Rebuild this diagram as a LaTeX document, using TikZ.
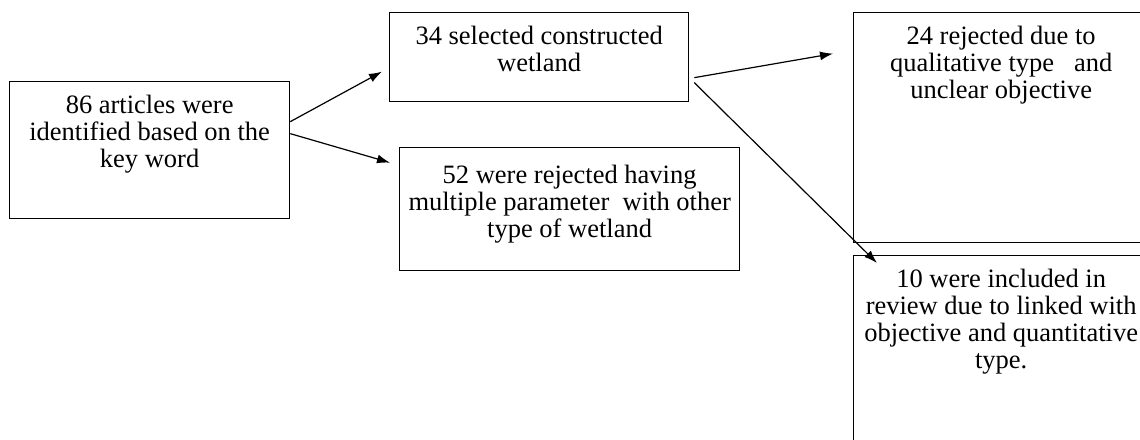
\documentclass[tikz,border=0pt]{standalone}
\usepackage{fontspec}
\setmainfont{Liberation Serif}
\newfontfamily\tnrfont{Liberation Serif}
\usetikzlibrary{arrows.meta}

\tikzset{
  box/.style={draw, line width=1.3pt, anchor=north west, inner sep=0pt},
  txt/.style={align=center, anchor=north, inner sep=0pt, yshift=-13.5pt,
    font=\tnrfont\fontsize{26.5}{27}\selectfont},
  arr/.style={-{Latex[length=13pt,width=9pt]}, line width=1.2pt}
}

\begin{document}
\begin{tikzpicture}[x=1pt,y=-1pt]
   \useasboundingbox (0,0) rectangle (1140,439);
   \node[box, minimum width=280pt, minimum height=137pt,
     label={[txt]north:86 articles were\\identified based on the\\key word}] (art) at (9,81) {};
   \node[box, minimum width=299pt, minimum height=89pt,
     label={[txt]north:34 selected constructed\\wetland}] (sel) at (389,12) {};
   \node[box, minimum width=340pt, minimum height=123pt,
     label={[txt,yshift=-4pt]north:52 were rejected having\\multiple parameter\ \ with other\\type of wetland}] (rej) at (399,147) {};
   \node[box, minimum width=295pt, minimum height=230pt,
     label={[txt]north:24 rejected due to\\qualitative type\ \ \ and\\unclear objective}] (qual) at (853,12) {};
   \node[box, minimum width=295pt, minimum height=200pt,
     label={[txt]north:10 were included in\\review due to linked with\\objective and quantitative\\type.}] (incl) at (853,255) {};
   \draw[arr] ([yshift=28.5pt]art.east) -- ([xshift=-7pt,yshift=-14.5pt]sel.west);
   \draw[arr] ([yshift=16.5pt]art.east) -- ([xshift=-9pt,yshift=46.5pt]rej.west);
   \draw[arr] ([xshift=5pt,yshift=-20.5pt]sel.east) -- ([xshift=-20pt,yshift=74pt]qual.west);
   \draw[arr] ([xshift=5pt,yshift=-25.5pt]sel.east) -- ([xshift=24pt,yshift=-8pt]incl.north west);
\end{tikzpicture}
\end{document}
